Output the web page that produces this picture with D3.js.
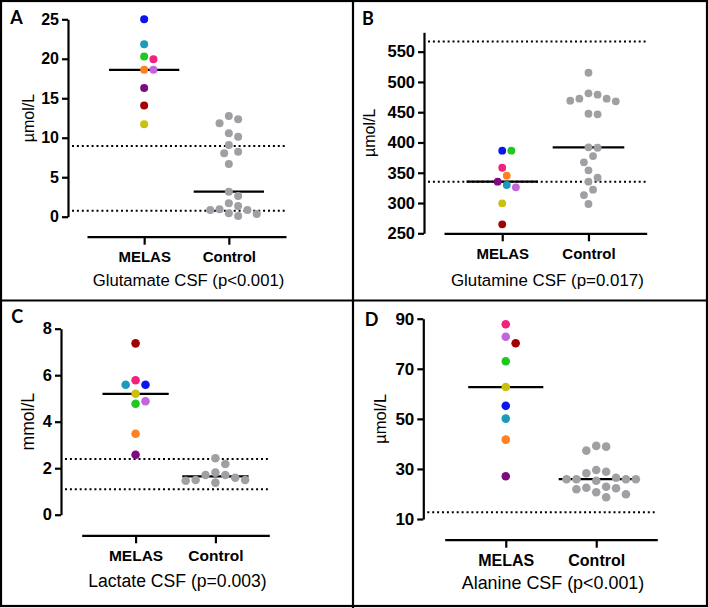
<!DOCTYPE html>
<html>
<head>
<meta charset="utf-8">
<script src="https://cdn.jsdelivr.net/npm/d3@7"></script>
<style>
    body { margin: 0; background: #fff; }
    text { font-family: "Liberation Sans", Arial, sans-serif; fill: #000; }
</style>
</head>
<body>
<div id="chart"></div>
<script>

//groups on the x axis
const groups = ["MELAS", "Control"];

//one colour per MELAS patient, same order in every panel
const patientColors = ["#0b16ee", "#1b9ab9", "#1ec81e", "#f2217d", "#ff8020", "#c366dc", "#7e0b7e", "#a10202", "#c9c10b"];
const controlColor = "#a0a0a4";

//Glutamate CSF
const glutamateMelas = [25.0, 21.85, 20.3, 19.95, 18.6, 18.6, 16.3, 14.07, 11.7];
const glutamateControl = [12.76, 12.34, 11.84, 10.57, 10.14, 9.09, 8.24, 8.04, 6.68, 3.17, 2.62, 1.70, 1.36, 0.94, 0.85, 0.85, 0.43, 0.34, 0.09];
const glutamateRef = [0.76, 8.95];
const glutamateTicks = [0, 5, 10, 15, 20, 25];

//Glutamine CSF
const glutamineMelas = [386.4, 329.8, 386.4, 358.3, 345.1, 326.0, 335.2, 264.9, 299.5];
const glutamineControl = [515.2, 481.2, 478.9, 472.3, 472.3, 469.0, 468.0, 447.5, 446.5, 392.0, 391.3, 377.6, 367.2, 354.0, 341.8, 335.2, 322.0, 313.2, 298.4];
const glutamineRef = [335, 567];
const glutamineTicks = [250, 300, 350, 400, 450, 500, 550];

//Lactate CSF
const lactateMelas = [5.59, 5.59, 4.77, 5.78, 3.48, 4.88, 2.58, 7.37, 5.2];
const lactateControl = [2.43, 2.18, 1.81, 1.71, 1.71, 1.59, 1.49, 1.49, 1.46, 1.38];
const lactateRef = [1.1, 2.4];
const lactateTicks = [0, 2, 4, 6, 8];

//Alanine CSF
const alanineMelas = [55.2, 50.1, 73.0, 87.8, 41.7, 82.8, 27.1, 80.2, 62.7];
const alanineControl = [39.2, 38.9, 37.3, 29.6, 28.9, 28.3, 26.5, 25.9, 25.9, 25.9, 25.9, 25.3, 22.9, 22.5, 22.3, 21.9, 20.7, 19.9, 18.7];
const alanineRef = [12.7];
const alanineTicks = [10, 30, 50, 70, 90];


class DotPanel {

    constructor(_svg, _config) {
        this.svg = _svg;
        this.config = _config;

        this.initVis();
    }

    initVis() {
        let vis = this;
        let c = vis.config;

        vis.g = vis.svg.append("g");

        vis.y = d3.scaleLinear()
            .domain(c.domain)
            .range(c.yRange);

        vis.x = d3.scalePoint()
            .domain(groups)
            .range(c.xRange)
            .padding(0.675);

        //panel letter
        vis.g.append("text")
            .attr("x", c.letterPos[0])
            .attr("y", c.letterPos[1])
            .attr("text-anchor", "middle")
            .attr("dominant-baseline", "central")
            .style("font-family", "Lato, 'Liberation Sans', sans-serif")
            .style("font-weight", "bold")
            .style("font-size", "18px")
            .text(c.letter);

        //y axis
        vis.yAxis = d3.axisLeft(vis.y)
            .tickValues(c.ticks)
            .tickSize(6)
            .tickSizeOuter(0)
            .tickPadding(3);

        vis.yAxisG = vis.g.append("g")
            .attr("class", "y-axis axis")
            .attr("transform", "translate(" + c.yAxisX + ",0)")
            .call(vis.yAxis);

        //x axis, offset below the plot like in prism
        vis.xAxis = d3.axisBottom(vis.x)
            .tickSize(8)
            .tickSizeOuter(0)
            .tickPadding(7);

        vis.xAxisG = vis.g.append("g")
            .attr("class", "x-axis axis")
            .attr("transform", "translate(0," + c.xAxisY + ")")
            .call(vis.xAxis);

        [vis.yAxisG, vis.xAxisG].forEach(a => {
            a.select(".domain").attr("stroke-width", 2.2);
            a.selectAll(".tick line").attr("stroke-width", 2.2);
        });
        vis.yAxisG.selectAll(".tick text")
            .style("font-weight", "bold")
            .style("font-size", c.tickFont + "px");
        vis.xAxisG.selectAll(".tick text")
            .style("font-weight", "bold")
            .style("font-size", c.catFont + "px");

        //y label
        let midY = (c.yRange[0] + c.yRange[1]) / 2;
        vis.g.append("text")
            .attr("transform", "translate(" + c.labelX + "," + midY + ") rotate(-90)")
            .attr("text-anchor", "middle")
            .attr("dominant-baseline", "central")
            .style("font-size", c.labelFont + "px")
            .text(c.unit);

        //title under the axis
        vis.g.append("text")
            .attr("x", (c.xRange[0] + c.xRange[1]) / 2 + 2)
            .attr("y", c.titleY)
            .attr("text-anchor", "middle")
            .attr("dominant-baseline", "central")
            .style("font-size", c.titleFont + "px")
            .text(c.title);

        vis.wrangleData();
    }

    wrangleData() {
        let vis = this;
        let c = vis.config;

        vis.melas = c.melas.map((v, i) => ({value: v, color: patientColors[i]}));
        vis.control = c.control.map(v => ({value: v, color: controlColor}));

        vis.medians = [
            {group: groups[0], value: d3.median(c.melas)},
            {group: groups[1], value: d3.median(c.control)}
        ];

        //simple beeswarm so dots don't sit on top of each other
        vis.swarm(vis.melas, vis.x(groups[0]));
        vis.swarm(vis.control, vis.x(groups[1]));

        vis.updateVis();
    }

    swarm(points, cx) {
        let vis = this;
        let sep = 2 * vis.config.r + 1.3;
        let step = sep / 2;
        let placed = [];
        let order = points.slice().sort((a, b) => b.value - a.value);

        order.forEach(p => {
            p.py = vis.y(p.value);
            for (let k = 0; k < 60; k++) {
                let m = Math.ceil(k / 2);
                let dx = (k % 2 === 1 ? m : -m) * step;
                let hit = placed.some(q => (q.dx - dx) ** 2 + (q.py - p.py) ** 2 < (sep - 0.3) ** 2);
                if (!hit) {
                    p.dx = dx;
                    break;
                }
            }
            p.px = cx + p.dx;
            placed.push(p);
        });
    }

    updateVis() {
        let vis = this;
        let c = vis.config;
        let half = vis.x.step() * 0.415;

        //reference range lines
        vis.g.selectAll(".ref-line")
            .data(c.ref)
            .enter()
            .append("line")
            .attr("class", "ref-line")
            .attr("x1", c.yAxisX + 4)
            .attr("x2", c.xRange[1])
            .attr("y1", d => vis.y(d))
            .attr("y2", d => vis.y(d))
            .attr("stroke", "#000")
            .attr("stroke-width", 2)
            .attr("stroke-dasharray", "2 2.9");

        //median lines
        vis.g.selectAll(".median")
            .data(vis.medians)
            .enter()
            .append("line")
            .attr("class", "median")
            .attr("x1", d => vis.x(d.group) - half)
            .attr("x2", d => vis.x(d.group) + half)
            .attr("y1", d => vis.y(d.value))
            .attr("y2", d => vis.y(d.value))
            .attr("stroke", "#000")
            .attr("stroke-width", 2.2);

        vis.g.selectAll(".dot")
            .data(vis.control.concat(vis.melas))
            .enter()
            .append("circle")
            .attr("class", "dot")
            .attr("cx", d => d.px)
            .attr("cy", d => d.py)
            .attr("r", c.r)
            .attr("fill", d => d.color);
    }
}


let svg = d3.select("#chart").append("svg")
    .attr("width", 708)
    .attr("height", 608);

//frame and dividers between the four panels
svg.append("rect")
    .attr("x", 1).attr("y", 1)
    .attr("width", 706).attr("height", 605)
    .attr("fill", "none")
    .attr("stroke", "#000")
    .attr("stroke-width", 2.2);
svg.append("line")
    .attr("x1", 353).attr("x2", 353)
    .attr("y1", 0).attr("y2", 608)
    .attr("stroke", "#000").attr("stroke-width", 2.2);
svg.append("line")
    .attr("x1", 0).attr("x2", 708)
    .attr("y1", 300.5).attr("y2", 300.5)
    .attr("stroke", "#000").attr("stroke-width", 2.2);

new DotPanel(svg, {
    letter: "A", letterPos: [16.5, 17],
    melas: glutamateMelas, control: glutamateControl, ref: glutamateRef, ticks: glutamateTicks,
    domain: [0, 25], yRange: [216.7, 19.3], yAxisX: 68,
    xAxisY: 236.7, xRange: [87, 286],
    unit: "µmol/L", labelX: 28, title: "Glutamate CSF (p<0.001)", titleY: 280,
    r: 4, tickFont: 16, catFont: 15, labelFont: 16, titleFont: 16.7
});

new DotPanel(svg, {
    letter: "B", letterPos: [368, 18],
    melas: glutamineMelas, control: glutamineControl, ref: glutamineRef, ticks: glutamineTicks,
    domain: [250, 582], yRange: [233.3, 32.3], yAxisX: 424,
    xAxisY: 233.3, xRange: [444, 646.7],
    unit: "µmol/L", labelX: 369, title: "Glutamine CSF (p=0.017)", titleY: 280,
    r: 3.9, tickFont: 16.5, catFont: 15, labelFont: 16, titleFont: 16.9
});

new DotPanel(svg, {
    letter: "C", letterPos: [17.2, 316.3],
    melas: lactateMelas, control: lactateControl, ref: lactateRef, ticks: lactateTicks,
    domain: [0, 8], yRange: [514.7, 328.7], yAxisX: 61,
    xAxisY: 535.3, xRange: [81.7, 269.3],
    unit: "mmol/L", labelX: 28.3, title: "Lactate CSF (p=0.003)", titleY: 581.3,
    r: 4.3, tickFont: 16.5, catFont: 15.5, labelFont: 17.5, titleFont: 17.6
});

new DotPanel(svg, {
    letter: "D", letterPos: [371.5, 318.8],
    melas: alanineMelas, control: alanineControl, ref: alanineRef, ticks: alanineTicks,
    domain: [10, 90], yRange: [519, 318.7], yAxisX: 423.3,
    xAxisY: 539.7, xRange: [444.7, 657.3],
    unit: "µmol/L", labelX: 380, title: "Alanine CSF (p<0.001)", titleY: 583,
    r: 4.3, tickFont: 17, catFont: 16, labelFont: 16.5, titleFont: 17.9
});

</script>
</body>
</html>
